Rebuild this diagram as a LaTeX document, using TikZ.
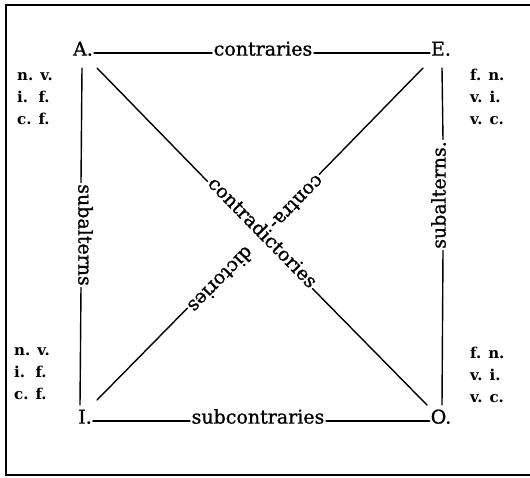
\documentclass[tikz,border=0pt]{standalone}
\usepackage{fontspec}
\setmainfont{DejaVu Serif}
\newfontfamily\lblfont{DejaVu Serif}[FakeBold=1]
\begin{document}
\begin{tikzpicture}[x=1pt,y=-1pt,
  ln/.style={line width=1.4pt, line cap=round},
  frame/.style={line width=1.5pt},
  corner/.style={font=\lblfont\fontsize{19}{19}\selectfont, inner sep=1pt, anchor=mid},
  rel/.style={font=\lblfont\fontsize{19}{19}\selectfont, inner sep=1.5pt, anchor=mid},
  side/.style={font=\bfseries\fontsize{15}{15}\selectfont, inner sep=0pt, anchor=mid west}]
\useasboundingbox (0,0) rectangle (530,477);
\draw[frame] (530,5) -- (6,5) -- (6,475) -- (530,475);

% corners
\node[corner] (A) at (83,53) {A.};
\node[corner] (E) at (441,53) {E.};
\node[corner] (I) at (85,421) {I.};
\node[corner] (O) at (441,421) {O.};

% relation labels
\node[rel] (con) at (263,53) {contraries};
\node[rel] (sub) at (258,421) {subcontraries};
\node[rel, rotate=-90] (sl) at (81,235) {subalterns};
\node[rel, rotate=90] (sr) at (443,195) {subalterns.};
\node[rel, rotate=-45.6] (cd) at (260,235) {contradictories};
\node[rel, rotate=225.5] (c1) at (294,200) {contra-};
\node[rel, rotate=225.5] (c2) at (218,277) {dictories};

% free ends
\coordinate (aV) at (82,68);
\coordinate (iV) at (80,405);
\coordinate (eV) at (442,68);
\coordinate (oV) at (442,405);
\coordinate (a1) at (97,68);
\coordinate (o1) at (427,405);
\coordinate (e1) at (423,68);
\coordinate (i1) at (97,400);

% connectors
\draw[ln] (A.mid east) -- (con.mid west);
\draw[ln] (con.mid east) -- (E.mid west);
\draw[ln] (I.mid east) -- (sub.mid west);
\draw[ln] (sub.mid east) -- (O.mid west);
\draw[ln] (aV) -- (sl.mid west);
\draw[ln] (sl.mid east) -- (iV);
\draw[ln] (eV) -- (sr.mid east);
\draw[ln] (sr.mid west) -- (oV);
\draw[ln] (a1) -- (cd.mid west);
\draw[ln] (cd.mid east) -- (o1);
\draw[ln] (e1) -- (c1.mid west);
\draw[ln] (c2.mid east) -- (i1);

% side notes
\node[side] (l1) at (17,78) {n. v.};
\node[side] (l2) at (17,100) {i.\ \ f.};
\node[side] (l3) at (17,122) {c. f.};
\node[side] (l4) at (14,353) {n. v.};
\node[side] (l5) at (14,375) {i.\ \ f.};
\node[side] (l6) at (14,397) {c. f.};
\node[side] (r1) at (470,78) {f. n.};
\node[side] (r2) at (470,100) {v. i.};
\node[side] (r3) at (470,122) {v. c.};
\node[side] (r4) at (470,356) {f. n.};
\node[side] (r5) at (470,378) {v. i.};
\node[side] (r6) at (470,400) {v. c.};
\end{tikzpicture}
\end{document}
